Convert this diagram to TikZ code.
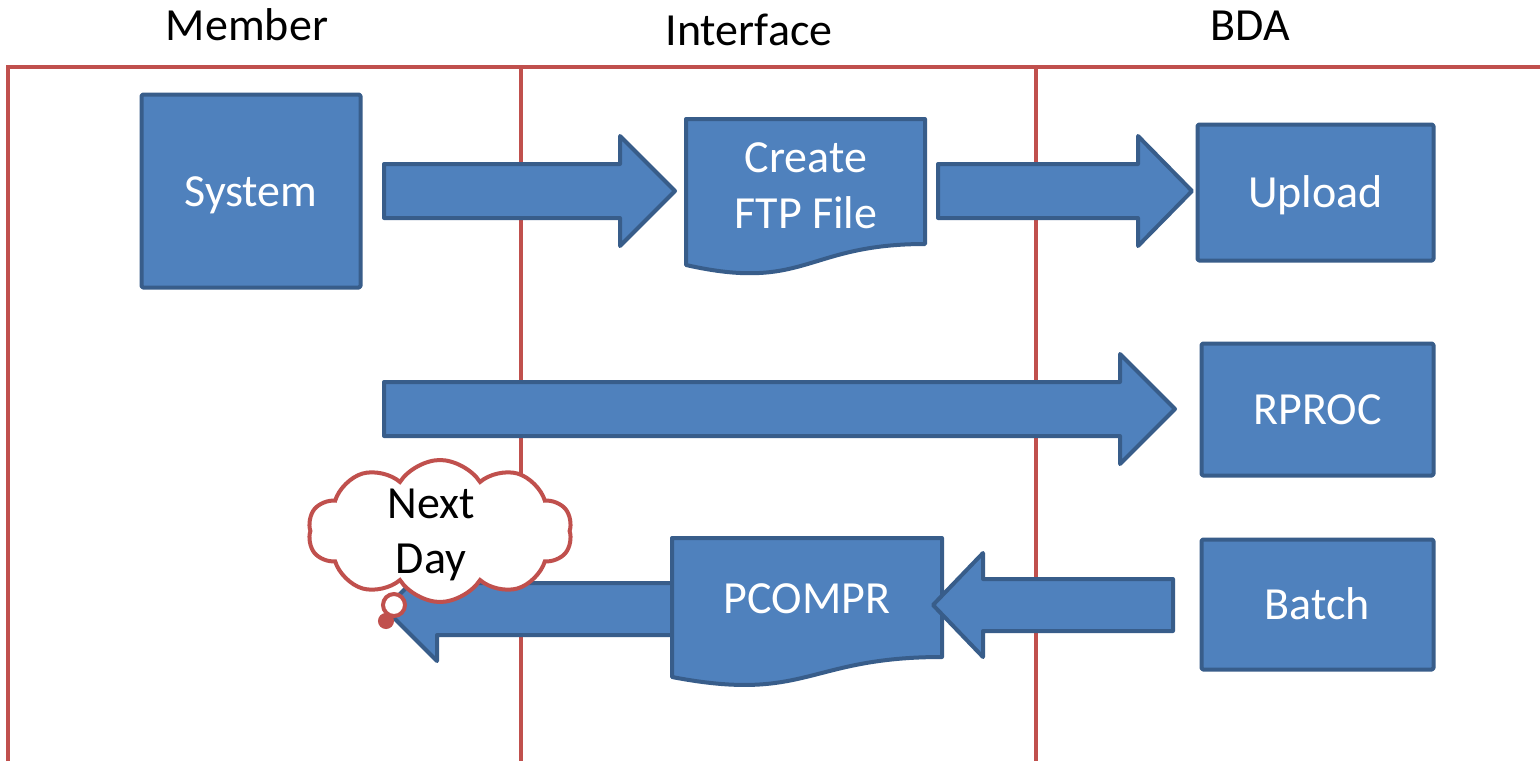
\documentclass[tikz,border=0pt]{standalone}
\usepackage{fontspec}
\setmainfont{Carlito}
\usetikzlibrary{shapes.symbols}
\definecolor{lanered}{HTML}{C0504D}
\definecolor{boxfill}{HTML}{4F81BD}
\definecolor{boxline}{HTML}{385D8A}
\begin{document}
\begin{tikzpicture}[x=1pt,y=-1pt,
  lane/.style={draw=lanered, line width=4.5pt},
  blk/.style={fill=boxfill, draw=boxline, line width=4pt, line join=round},
  bigfont/.style={font=\fontsize{46}{56}\selectfont},
  proc/.style={blk, rectangle, rounded corners=1.5pt, inner sep=0pt, text height=30pt, text depth=0pt, text=white, bigfont},
  wtxt/.style={text=white, bigfont, anchor=base, inner sep=0pt},
  btxt/.style={text=black, bigfont, anchor=base, inner sep=0pt},
  bubble/.style={draw=lanered, fill=white, line width=4pt}
]
\useasboundingbox (0,0) rectangle (1540,761);
\fill[white] (0,0) rectangle (1540,761);

% headers
\node[btxt] (hmember) at (247,40) {Member};
\node[btxt] (hinter) at (749,45) {Interface};
\node[btxt] (hbda) at (1250,40) {BDA};

% swimlanes
\draw[lane] (8,761) -- (8,67) -- (1540,67);
\draw[lane] (521,67) -- (521,761);
\draw[lane] (1036,67) -- (1036,761);

% block arrows (right)
\draw[blk] (384,164) -- (620,164) -- (620,136) -- (675,191) -- (620,246) -- (620,218) -- (384,218) -- cycle;
\draw[blk] (938,164) -- (1138,164) -- (1138,136) -- (1192,191) -- (1138,246) -- (1138,218) -- (938,218) -- cycle;
\draw[blk] (384,382) -- (1120,382) -- (1120,354) -- (1175,409) -- (1120,464) -- (1120,436) -- (384,436) -- cycle;
% block arrow (left, to Member)
\draw[blk] (680,583) -- (437,583) -- (437,557) -- (385,609) -- (437,661) -- (437,635) -- (680,635) -- cycle;

% documents
\draw[blk] (686,119) -- (925,119) -- (925,244) .. controls (805.5,244) and (805.5,292) .. (686,265) -- cycle;
\node[wtxt] (ftp1) at (806,172) {Create};
\node[wtxt] (ftp2) at (806,228) {FTP File};

\draw[blk] (672,538) -- (942,538) -- (942,657) .. controls (807,657) and (807,703) .. (672,677) -- cycle;
\node[wtxt] (pcompr) at (807,613) {PCOMPR};

% block arrow (left, Batch to PCOMPR)
\draw[blk] (1173,579) -- (983,579) -- (983,553) -- (933,605) -- (983,657) -- (983,631) -- (1173,631) -- cycle;

% process boxes
\node[proc, minimum width=219pt, minimum height=193pt] (system) at (251,191) {System};
\node[proc, minimum width=236pt, minimum height=136pt] (upload) at (1315.5,192.5) {Upload};
\node[proc, minimum width=232pt, minimum height=132pt] (rproc) at (1317.5,409.5) {RPROC};
\node[proc, minimum width=232pt, minimum height=130pt] (batch) at (1317.5,604.5) {Batch};

% thought cloud
\node[cloud, bubble, cloud puffs=10, cloud puff arc=115, aspect=1.8, minimum width=264pt, minimum height=142pt] (cloud) at (440,531) {};
\draw[bubble] (394,605) circle (11);
\draw[bubble, fill=lanered] (386,621) circle (6);
\node[btxt] (next) at (431,518) {Next};
\node[btxt] (day) at (431,573) {Day};
\end{tikzpicture}
\end{document}
